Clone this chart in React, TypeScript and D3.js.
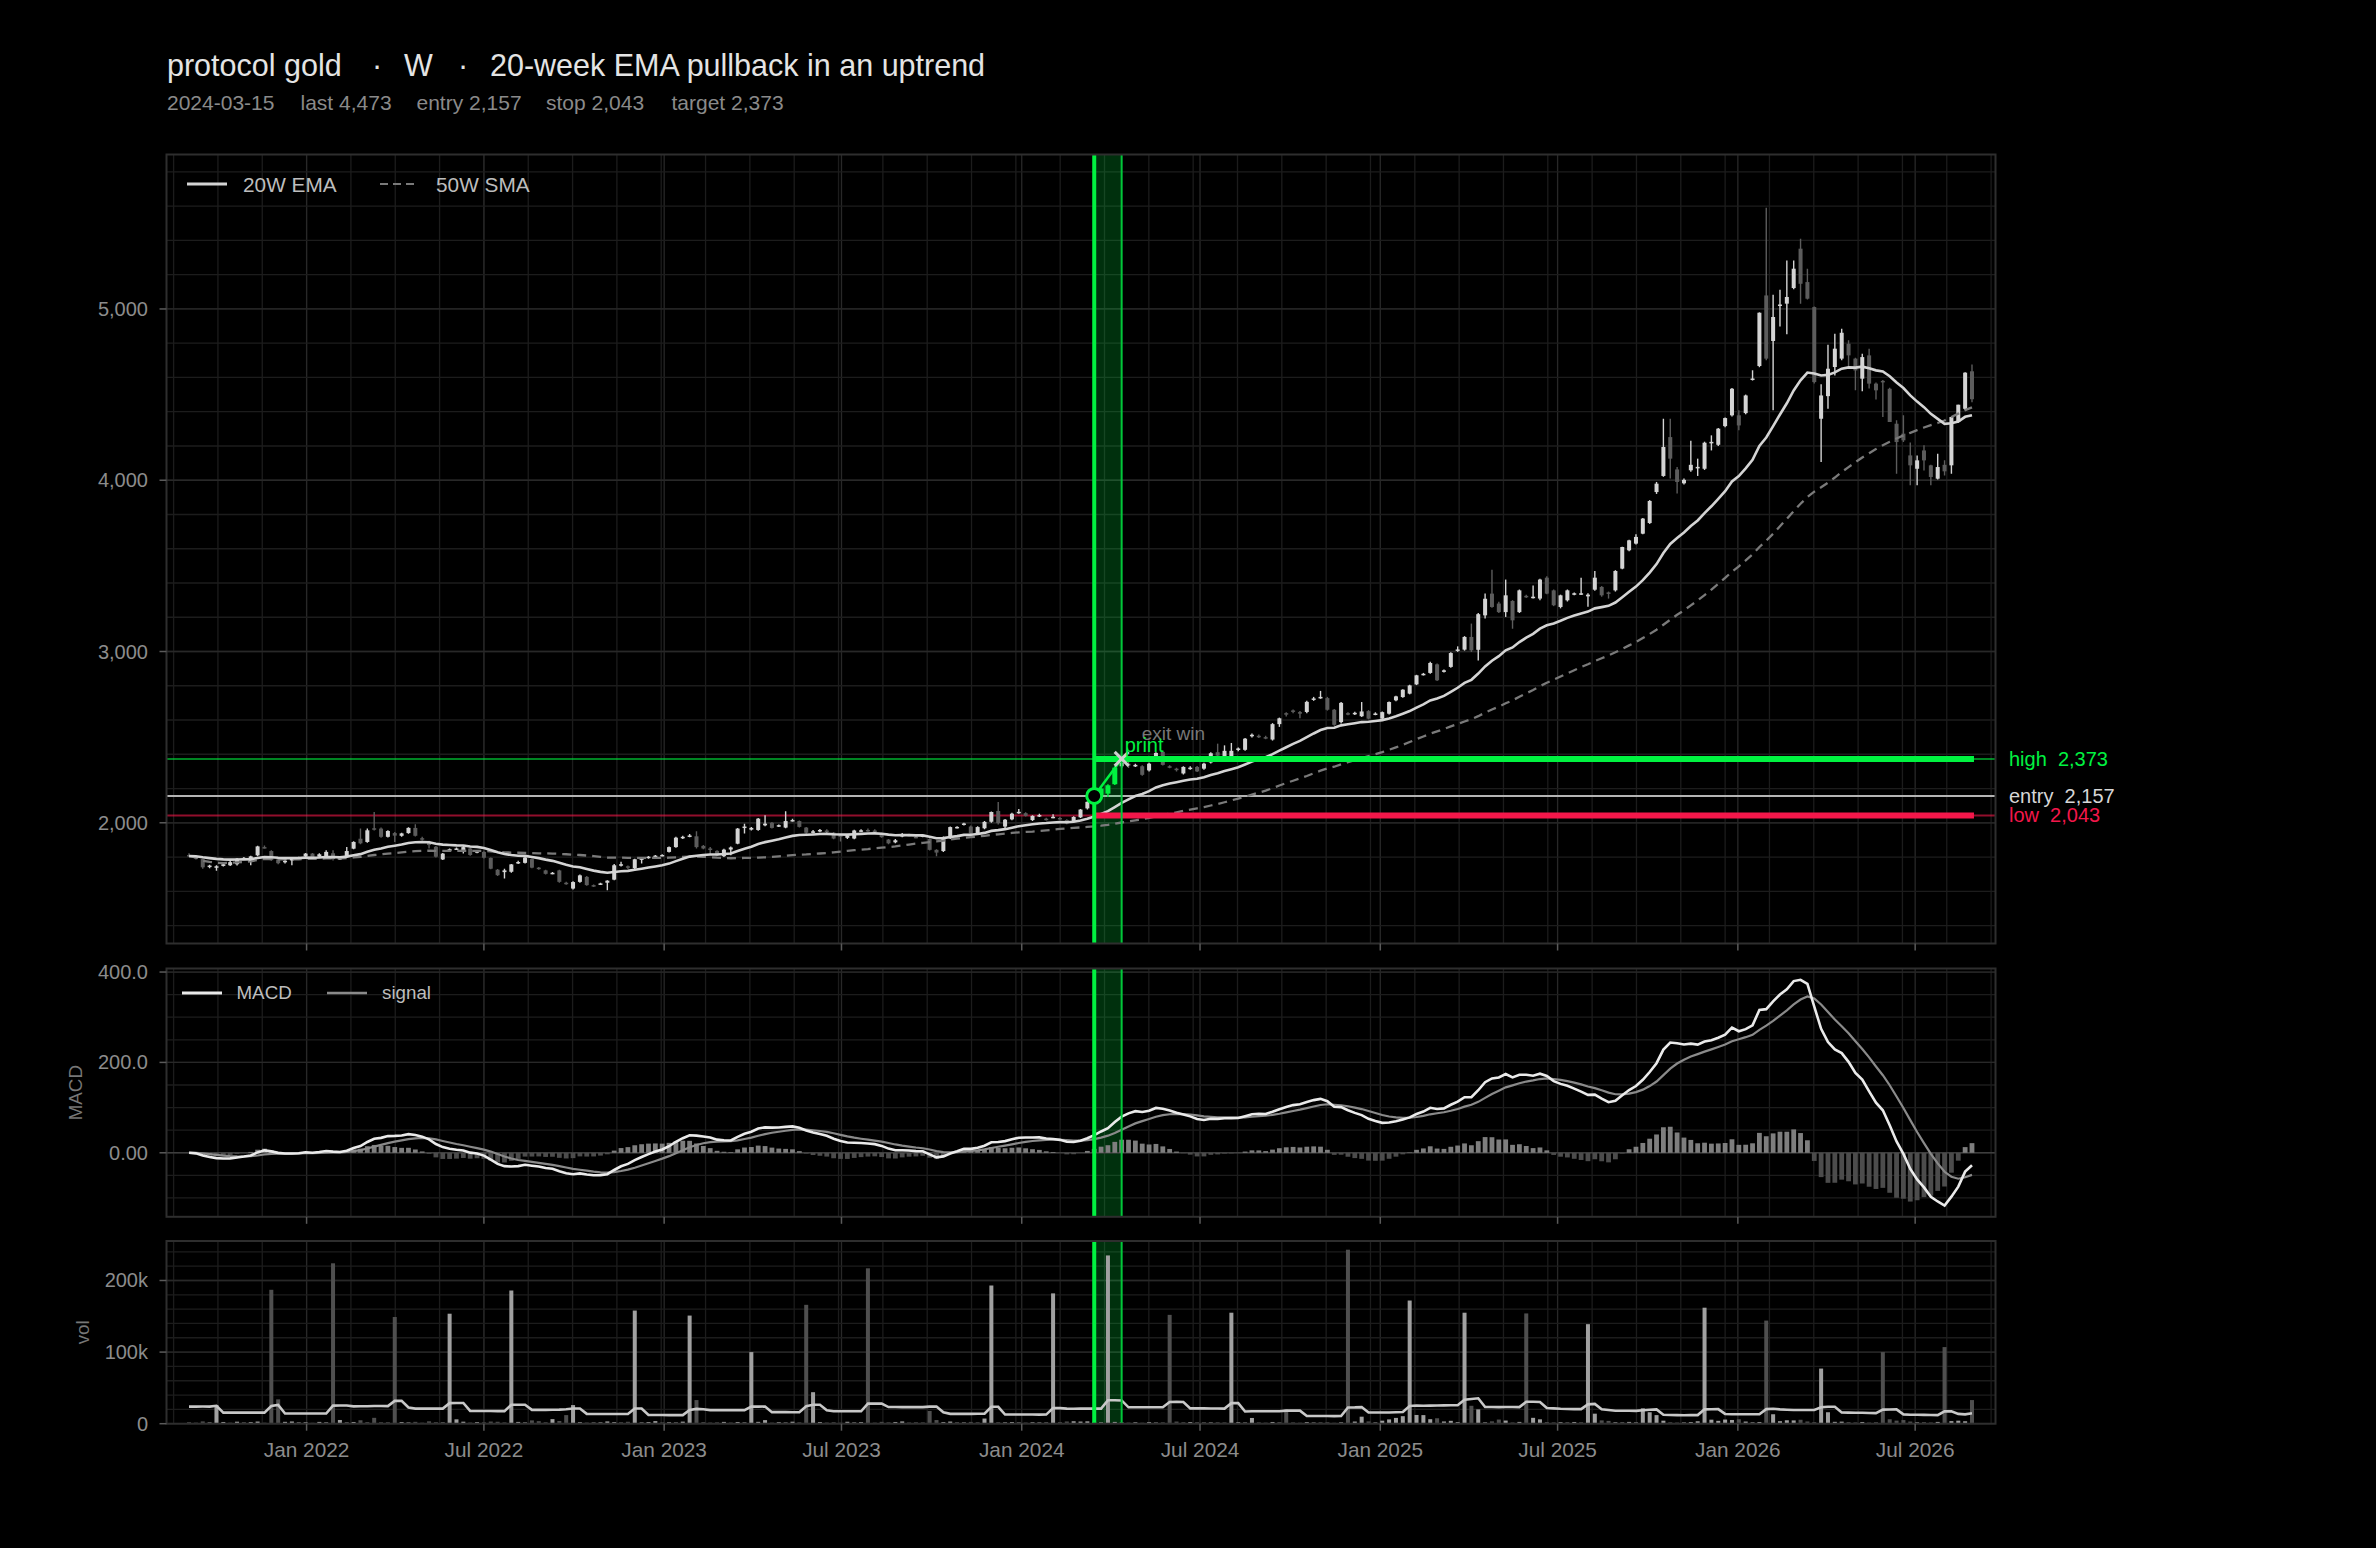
import React from "react";
import * as d3 from "d3";

// ---- data (weekly bars, Fridays) ----
const firstWeek = "2021-09-03";
const entryDate = "2024-03-15";
const exitDate = "2024-04-12";
const entryPrice = 2157;
const stopPrice = 2043;
const targetPrice = 2373;
const lastPrice = 4473;

// [open, high, low, close]
const candles: [number, number, number, number][] = [
  [1812,1822,1800,1806],[1802,1806,1785,1790],[1788,1790,1732,1740],[1745,1755,1735,1750],[1742,1752,1720,1746],
  [1748,1768,1745,1758],[1752,1785,1748,1770],[1758,1795,1750,1790],[1790,1800,1782,1795],[1772,1808,1752,1804],
  [1810,1866,1805,1862],[1858,1868,1850,1854],[1835,1840,1778,1782],[1786,1790,1758,1764],[1770,1784,1762,1778],
  [1780,1795,1752,1792],[1794,1802,1788,1798],[1804,1824,1800,1820],[1820,1824,1782,1786],[1802,1822,1798,1816],
  [1806,1840,1800,1830],[1822,1840,1780,1788],[1790,1798,1782,1794],[1800,1858,1796,1835],[1849,1892,1845,1888],
  [1907,1966,1875,1880],[1888,1966,1884,1956],[1968,2063,1955,1960],[1966,1972,1912,1918],[1918,1956,1914,1952],
  [1940,1946,1888,1925],[1924,1942,1918,1938],[1940,1974,1936,1970],[1970,1991,1920,1924],[1910,1918,1896,1903],
  [1890,1895,1850,1870],[1860,1864,1798,1802],[1786,1824,1782,1820],[1838,1850,1832,1846],[1848,1856,1842,1850],
  [1832,1868,1820,1858],[1850,1856,1808,1812],[1828,1840,1822,1834],[1830,1834,1792,1796],[1795,1798,1728,1732],
  [1726,1730,1690,1694],[1712,1732,1674,1722],[1714,1760,1708,1757],[1765,1778,1760,1771],[1766,1800,1762,1797],
  [1788,1792,1735,1738],[1738,1742,1726,1732],[1722,1726,1698,1702],[1704,1712,1700,1708],[1722,1726,1650,1655],
  [1650,1655,1638,1644],[1616,1658,1610,1654],[1655,1698,1650,1693],[1684,1690,1632,1636],[1636,1640,1625,1632],
  [1640,1650,1636,1646],[1650,1665,1606,1662],[1668,1760,1664,1752],[1752,1772,1745,1758],[1746,1750,1730,1738],
  [1735,1790,1730,1787],[1786,1800,1762,1792],[1796,1806,1790,1802],[1800,1812,1795,1808],[1808,1816,1804,1812],
  [1830,1862,1826,1858],[1858,1918,1854,1913],[1912,1924,1905,1918],[1920,1935,1915,1926],[1921,1950,1850,1858],
  [1865,1870,1846,1850],[1850,1858,1816,1845],[1836,1840,1806,1810],[1805,1848,1800,1843],[1844,1862,1810,1856],
  [1878,1970,1874,1966],[1972,1995,1937,1978],[1960,1975,1955,1970],[1958,2028,1954,2024],[1985,2044,1980,1995],
  [2000,2004,1966,1970],[1980,1990,1975,1986],[1972,2067,1968,2010],[2014,2024,2008,2016],[2010,2014,1972,1976],
  [1972,1976,1936,1942],[1945,1958,1938,1950],[1950,1964,1945,1958],[1955,1962,1940,1948],[1942,1946,1904,1908],
  [1930,1934,1890,1918],[1912,1930,1905,1925],[1908,1960,1904,1955],[1952,1962,1946,1956],[1958,1966,1948,1954],
  [1955,1962,1940,1948],[1936,1942,1912,1916],[1902,1906,1875,1880],[1886,1905,1880,1898],[1920,1940,1915,1932],
  [1930,1936,1920,1926],[1918,1925,1910,1914],[1920,1930,1915,1926],[1905,1910,1838,1842],[1842,1846,1805,1826],
  [1835,1920,1830,1917],[1910,1978,1905,1975],[1972,1980,1966,1976],[1990,2000,1984,1996],[1978,1984,1934,1938],
  [1934,1980,1930,1975],[1968,2010,1962,2005],[2006,2066,2000,2063],[2069,2122,1990,1998],[1978,2022,1960,2018],
  [2020,2058,2015,2053],[2058,2080,2052,2064],[2056,2062,2036,2040],[2016,2044,2010,2040],[2040,2052,2034,2045],
  [2024,2030,2014,2020],[2030,2050,2026,2035],[2028,2034,2018,2024],[2016,2020,1992,1996],[2010,2038,2005,2034],
  [2032,2080,2028,2077],[2084,2126,2078,2122],[2124,2170,2118,2157],[2160,2205,2155,2200],[2170,2225,2150,2219],
  [2225,2330,2220,2322],[2330,2380,2320,2350],[2345,2368,2320,2334],[2334,2345,2325,2338],[2330,2336,2274,2280],
  [2306,2350,2300,2345],[2374,2412,2370,2408],[2414,2418,2334,2338],[2330,2336,2318,2326],[2316,2322,2300,2310],
  [2288,2330,2282,2326],[2318,2330,2310,2322],[2326,2332,2297,2300],[2316,2350,2310,2345],[2352,2412,2346,2406],
  [2412,2462,2384,2392],[2390,2452,2385,2420],[2388,2466,2382,2420],[2425,2440,2418,2434],[2426,2495,2420,2491],
  [2505,2522,2498,2514],[2508,2515,2495,2502],[2500,2508,2488,2494],[2486,2582,2480,2576],[2576,2614,2560,2610],
  [2640,2646,2620,2632],[2656,2662,2640,2648],[2646,2652,2610,2644],[2647,2712,2640,2706],[2720,2735,2712,2726],
  [2732,2770,2724,2735],[2728,2735,2655,2660],[2660,2665,2566,2572],[2588,2705,2580,2700],[2640,2646,2628,2636],
  [2638,2648,2630,2642],[2622,2705,2618,2650],[2652,2658,2604,2608],[2634,2645,2628,2638],[2608,2650,2604,2646],
  [2637,2708,2632,2705],[2715,2742,2710,2738],[2734,2780,2730,2777],[2754,2806,2750,2802],[2808,2864,2804,2861],
  [2866,2875,2860,2870],[2875,2940,2870,2933],[2925,2930,2828,2832],[2885,2895,2878,2890],[2910,2996,2905,2991],
  [3005,3030,2998,3012],[3011,3090,3005,3085],[3085,3163,2997,3007],[3010,3225,2948,3218],[3211,3338,3192,3308],
  [3338,3478,3255,3260],[3280,3290,3225,3230],[3230,3420,3202,3328],[3295,3300,3133,3182],[3230,3362,3225,3357],
  [3325,3332,3312,3320],[3316,3386,3310,3320],[3309,3425,3300,3420],[3431,3440,3334,3338],[3357,3362,3265,3270],
  [3260,3332,3252,3328],[3299,3362,3292,3357],[3334,3345,3328,3340],[3336,3430,3330,3340],[3322,3340,3262,3332],
  [3361,3470,3355,3431],[3377,3382,3320,3328],[3345,3350,3309,3338],[3357,3475,3350,3470],[3484,3612,3480,3610],
  [3591,3652,3586,3649],[3630,3684,3625,3669],[3688,3780,3684,3776],[3750,3884,3745,3879],[3931,3990,3920,3980],
  [4025,4359,4020,4194],[4252,4359,4010,4126],[4063,4077,3922,3990],[3982,4010,3975,4002],[4058,4230,4050,4090],
  [4072,4126,4025,4078],[4067,4225,4060,4219],[4220,4262,4174,4224],[4207,4305,4200,4301],[4316,4366,4310,4363],
  [4379,4538,4372,4534],[4379,4408,4292,4320],[4392,4500,4385,4495],[4588,4642,4582,4594],[4667,4980,4660,4978],
  [5079,5591,4700,4710],[4813,5083,4408,4953],[5020,5112,4898,5026],[5031,5283,4852,5070],[5122,5283,5115,5235],
  [5352,5410,5030,5147],[5157,5235,5055,5060],[5011,5015,4565,4573],[4359,4560,4106,4495],[4491,4791,4418,4651],
  [4661,4855,4612,4768],[4710,4885,4700,4861],[4797,4817,4661,4729],[4710,4715,4525,4641],[4593,4739,4519,4719],
  [4729,4768,4535,4564],[4564,4570,4472,4525],[4580,4585,4369,4574],[4534,4540,4340,4340],[4330,4350,4038,4223],
  [4272,4380,4223,4233],[4145,4220,3970,4087],[4067,4145,3970,4116],[4174,4204,4057,4116],[4087,4090,3970,4019],
  [4009,4155,4005,4077],[4090,4116,4028,4052],[4087,4369,4038,4369],[4340,4441,4335,4441],[4417,4630,4410,4628],
  [4636,4675,4456,4473],
];

// weekly volume, thousands
const volumeK = [
  2.1, 1.5, 3.2, 1.8, 26, 2.4, 1.2, 2.8, 1.6, 2.2,
  3.0, 1.4, 187, 34, 2.6, 3.1, 1.8, 2.0, 1.3, 2.5,
  1.9, 224, 5.2, 1.7, 2.4, 4.8, 1.6, 8.2, 2.0, 1.5,
  149, 2.3, 1.8, 2.6, 1.4, 3.3, 2.1, 1.7, 153.6, 6.1,
  2.8, 1.6, 2.2, 1.9, 3.0, 2.7, 1.4, 186, 2.5, 1.8,
  4.6, 3.5, 2.0, 6.4, 3.8, 12, 26, 2.1, 1.6, 2.4,
  1.9, 3.2, 2.2, 1.5, 2.7, 158, 1.8, 2.3, 3.6, 1.4,
  2.0, 1.7, 2.9, 151, 33, 2.2, 1.6, 1.9, 2.5, 1.3,
  2.4, 1.8, 100, 2.6, 5.0, 1.5, 2.1, 1.7, 2.8, 1.9,
  166, 44, 2.3, 1.6, 2.0, 1.4, 2.7, 1.8, 2.2, 217,
  1.5, 2.6, 1.9, 2.4, 3.2, 1.7, 2.0, 1.4, 17.8, 5.1,
  2.2, 3.0, 1.6, 1.8, 2.5, 1.5, 7.2, 193, 2.1, 1.9,
  2.3, 1.7, 1.6, 2.0, 1.8, 2.4, 182, 2.2, 3.1, 3.4,
  3.0, 3.3, 2.6, 1.9, 235, 2.5, 1.8, 1.6, 2.0, 1.4,
  2.2, 1.7, 1.9, 152, 3.0, 1.5, 2.3, 2.1, 1.6, 1.8,
  2.0, 1.4, 155, 2.1, 1.7, 8.0, 1.9, 1.5, 2.4, 1.6,
  20, 1.8, 1.4, 2.2, 1.7, 1.5, 2.0, 1.3, 1.9, 243,
  3.0, 9.8, 3.2, 1.8, 4.2, 6.0, 8.1, 10.5, 172, 12.2,
  12.0, 6.3, 7.6, 3.1, 4.0, 2.2, 155, 25, 20, 1.9,
  3.3, 5.8, 4.4, 1.7, 2.5, 154, 8.2, 6.1, 2.3, 1.8,
  2.1, 1.6, 2.4, 1.5, 139, 14, 4.6, 3.9, 2.0, 1.7,
  2.5, 1.8, 21.5, 16, 12, 4.2, 2.0, 1.6, 1.8, 2.3,
  3.4, 162, 5.6, 4.0, 5.8, 5.2, 6.2, 3.0, 1.9, 2.4,
  144, 13.2, 3.5, 4.8, 4.6, 5.5, 3.1, 2.2, 77, 16,
  2.6, 2.9, 2.2, 1.8, 2.4, 1.6, 2.1, 100, 6.2, 4.3,
  5.1, 3.0, 1.9, 2.2, 1.7, 2.5, 107, 3.6, 4.2, 3.4,
  33,
];

// the 20 weeks before the first bar, only used to warm up the volume average
const volumeKBefore = [
  2.4, 1.8, 2.6, 3.0, 2.2, 193, 2.5, 1.9, 2.8, 2.1,
  2.3, 3.1, 2.0, 2.6, 243, 2.2, 1.7, 2.9, 2.4, 2.0,
];

const xTickDates = [
  "2022-01-01", "2022-07-01", "2023-01-01", "2023-07-01", "2024-01-01",
  "2024-07-01", "2025-01-01", "2025-07-01", "2026-01-01", "2026-07-01",
];
const xTickLabels = [
  "Jan 2022", "Jul 2022", "Jan 2023", "Jul 2023", "Jan 2024",
  "Jul 2024", "Jan 2025", "Jul 2025", "Jan 2026", "Jul 2026",
];
const priceTicks = [2000, 3000, 4000, 5000];
const macdTicks = [0, 200, 400];
const macdTickLabels = ["0.00", "200.0", "400.0"];
const volTicks = [0, 100, 200];
const volTickLabels = ["0", "100k", "200k"];

// ---- indicators ----
const DAY = 86400000;
const t0 = Date.parse(firstWeek);
const dates = candles.map((_, i) => new Date(t0 + i * 7 * DAY));
const closes = candles.map((c) => c[3]);

function ema(vals: number[], n: number) {
  const a = 2 / (n + 1);
  let prev = vals[0];
  return vals.map((v, i) => (i === 0 ? v : (prev = a * v + (1 - a) * prev)));
}
const ema20 = ema(closes, 20);
const sma50 = closes.map((_, i) => d3.mean(closes.slice(Math.max(0, i - 49), i + 1))!);
const ema12 = ema(closes, 12);
const ema26 = ema(closes, 26);
const macd = ema12.map((v, i) => v - ema26[i]);
const signal = ema(macd, 9);
const hist = macd.map((v, i) => v - signal[i]);
const allVol = volumeKBefore.concat(volumeK);
const nb = volumeKBefore.length;
const volMA = volumeK.map((_, i) => d3.mean(allVol.slice(i + nb - 19, i + nb + 1))!);

// ---- layout ----
const W = 2376;
const H = 1548;
const X0 = 166.5;
const X1 = 1995.5;
const P = { top: 154.5, bottom: 943.5 };
const M = { top: 968.5, bottom: 1216.8 };
const V = { top: 1241, bottom: 1423.7 };
const FONT = "'Liberation Sans', Arial, Helvetica, sans-serif";

const col = {
  frame: "#2e2e2e",
  gridMajor: "#282828",
  gridMinor: "#1c1c1c",
  tick: "#5a5a5a",
  tickText: "#8c8c8c",
  up: "#d4d4d4",
  down: "#5c5c5c",
  ema: "#d4d4d4",
  sma: "#7a7a7a",
  green: "#00f240",
  red: "#f3174a",
  entry: "#b4b4b4",
};

const x = d3
  .scaleUtc()
  .domain([new Date(t0 - 23 * DAY), new Date(dates[dates.length - 1].getTime() + 24 * DAY)])
  .range([X0, X1]);

const lo = d3.min(candles, (c) => c[2])!;
const hi = d3.max(candles, (c) => c[1])!;
const pad = (hi - lo) * 0.078;
const yP = d3.scaleLinear().domain([lo - pad, hi + pad]).range([P.bottom, P.top]);

const mLo = Math.min(d3.min(macd)!, d3.min(signal)!, d3.min(hist)!);
const mHi = Math.max(d3.max(macd)!, d3.max(signal)!, d3.max(hist)!);
const mPad = (mHi - mLo) * 0.05;
const yM = d3.scaleLinear().domain([mLo - mPad, mHi + mPad]).range([M.bottom, M.top]);

const yV = d3.scaleLinear().domain([0, d3.max(volumeK)! * 1.05]).range([V.bottom, V.top]);

// x minor grid: a quarter of the first major step, repeated evenly
const majorX = xTickDates.map((d) => Date.parse(d));
const minorStep = (majorX[1] - majorX[0]) / 4;
const minorX: number[] = [];
for (let t = majorX[0] - 12 * minorStep; t <= x.domain()[1].getTime(); t += minorStep) {
  if (t >= x.domain()[0].getTime()) minorX.push(t);
}

function range(a: number, b: number, step: number) {
  const out: number[] = [];
  for (let v = Math.ceil(a / step) * step; v <= b; v += step) out.push(v);
  return out;
}

function Grid({ y, top, bottom, minor, major }: { y: d3.ScaleLinear<number, number>; top: number; bottom: number; minor: number; major: number[] }) {
  const [d0, d1] = y.domain();
  return (
    <g>
      {minorX.map((t) => (
        <line key={"vx" + t} x1={x(t)} x2={x(t)} y1={top} y2={bottom} stroke={col.gridMinor} strokeWidth={1.3} />
      ))}
      {majorX.map((t) => (
        <line key={"vX" + t} x1={x(t)} x2={x(t)} y1={top} y2={bottom} stroke={col.gridMajor} strokeWidth={1.3} />
      ))}
      {range(d0, d1, minor).map((v) => (
        <line key={"hy" + v} x1={X0} x2={X1} y1={y(v)} y2={y(v)} stroke={col.gridMinor} strokeWidth={1.3} />
      ))}
      {major.map((v) => (
        <line key={"hY" + v} x1={X0} x2={X1} y1={y(v)} y2={y(v)} stroke={col.gridMajor} strokeWidth={1.3} />
      ))}
    </g>
  );
}

function Frame({ top, bottom, y, ticks, labels }: { top: number; bottom: number; y: d3.ScaleLinear<number, number>; ticks: number[]; labels: string[] }) {
  return (
    <g>
      <rect x={X0} y={top} width={X1 - X0} height={bottom - top} fill="none" stroke={col.frame} strokeWidth={2} />
      {majorX.map((t) => (
        <line key={t} x1={x(t)} x2={x(t)} y1={bottom} y2={bottom + 7} stroke={col.tick} strokeWidth={1.5} />
      ))}
      {ticks.map((v, i) => (
        <g key={v}>
          <line x1={X0 - 7} x2={X0} y1={y(v)} y2={y(v)} stroke={col.tick} strokeWidth={1.5} />
          <text x={148} y={y(v)} dy="0.35em" textAnchor="end" fontSize={20} fill={col.tickText}>
            {labels[i]}
          </text>
        </g>
      ))}
    </g>
  );
}

function TradeBand({ top, bottom }: { top: number; bottom: number }) {
  const xa = x(Date.parse(entryDate));
  const xb = x(Date.parse(exitDate));
  return <rect x={xa} y={top} width={xb - xa} height={bottom - top} fill={col.green} opacity={0.2} />;
}

function TradeEdges({ top, bottom }: { top: number; bottom: number }) {
  const xa = x(Date.parse(entryDate));
  const xb = x(Date.parse(exitDate));
  return (
    <g>
      <line x1={xb} x2={xb} y1={top} y2={bottom} stroke="#00c83a" strokeWidth={2} />
      <line x1={xa} x2={xa} y1={top} y2={bottom} stroke={col.green} strokeWidth={4} />
    </g>
  );
}

export default function App() {
  const fmt = d3.format(",");
  const entryT = Date.parse(entryDate);
  const exitT = Date.parse(exitDate);
  const xe = x(entryT);
  const xx = x(exitT);
  const xLast = x(dates[dates.length - 1]) + 2;
  const inTrade = (d: Date) => d.getTime() > entryT && d.getTime() < exitT;

  const emaLine = d3.line<number>().x((_, i) => x(dates[i])).y((v) => yP(v));
  const macdLine = d3.line<number>().x((_, i) => x(dates[i])).y((v) => yM(v));
  const volLine = d3.line<number>().x((_, i) => x(dates[i])).y((v) => yV(v));

  const bw = 4;
  const levelLabels = [
    { name: "high", value: targetPrice, color: col.green },
    { name: "entry", value: entryPrice, color: "#d6d6d6" },
    { name: "low", value: stopPrice, color: col.red },
  ];

  return (
    <div style={{ position: "fixed", left: 0, top: 0, width: W, height: H, background: "#000" }}>
      <svg width={W} height={H} fontFamily={FONT} style={{ display: "block" }}>
        <rect width={W} height={H} fill="#000" />
        <defs>
          <clipPath id="cp"><rect x={X0} y={P.top} width={X1 - X0} height={P.bottom - P.top} /></clipPath>
          <clipPath id="cm"><rect x={X0} y={M.top} width={X1 - X0} height={M.bottom - M.top} /></clipPath>
          <clipPath id="cv"><rect x={X0} y={V.top} width={X1 - X0} height={V.bottom - V.top} /></clipPath>
        </defs>

        {/* title */}
        <g fill="#e4e4e4" fontSize={30.5}>
          <text x={167} y={75.5}>protocol gold</text>
          <text x={372} y={75.5}>·</text>
          <text x={404} y={75.5}>W</text>
          <text x={458} y={75.5}>·</text>
          <text x={490} y={75.5}>20-week EMA pullback in an uptrend</text>
        </g>
        <g fill="#8a8a8a" fontSize={21}>
          <text x={167} y={110}>2024-03-15</text>
          <text x={300.5} y={110}>last {fmt(lastPrice)}</text>
          <text x={416.5} y={110}>entry {fmt(entryPrice)}</text>
          <text x={546} y={110}>stop {fmt(stopPrice)}</text>
          <text x={671.5} y={110}>target {fmt(targetPrice)}</text>
        </g>

        {/* ---- price panel ---- */}
        <Grid y={yP} top={P.top} bottom={P.bottom} minor={200} major={priceTicks} />
        <g clipPath="url(#cp)">
          <line x1={X0} x2={X1} y1={yP(targetPrice)} y2={yP(targetPrice)} stroke={col.green} strokeOpacity={0.55} strokeWidth={2} />
          <line x1={X0} x2={X1} y1={yP(stopPrice)} y2={yP(stopPrice)} stroke={col.red} strokeOpacity={0.6} strokeWidth={2} />
          <line x1={X0} x2={X1} y1={yP(entryPrice)} y2={yP(entryPrice)} stroke={col.entry} strokeWidth={2} />
          <TradeBand top={P.top} bottom={P.bottom} />
          {candles.map(([o, h, l, c], i) => {
            const d = dates[i];
            const cx = x(d);
            const green = inTrade(d);
            const color = green ? col.green : c >= o ? col.up : col.down;
            const w = green ? 5 : bw;
            const yt = yP(Math.max(o, c));
            const yb = yP(Math.min(o, c));
            return (
              <g key={i}>
                <line x1={cx} x2={cx} y1={yP(h)} y2={yP(l)} stroke={color} strokeWidth={1.4} />
                <rect x={cx - w / 2} y={yt} width={w} height={Math.max(1.5, yb - yt)} fill={color} />
              </g>
            );
          })}
          <path d={emaLine(sma50)!} fill="none" stroke={col.sma} strokeWidth={2.3} strokeDasharray="9,6" />
          <path d={emaLine(ema20)!} fill="none" stroke={col.ema} strokeWidth={2.6} />
          <line x1={xe} x2={xLast} y1={yP(targetPrice)} y2={yP(targetPrice)} stroke={col.green} strokeWidth={6} />
          <line x1={xe} x2={xLast} y1={yP(stopPrice)} y2={yP(stopPrice)} stroke={col.red} strokeWidth={6} />
          <TradeEdges top={P.top} bottom={P.bottom} />
          <line x1={xe} x2={xx} y1={yP(entryPrice)} y2={yP(targetPrice)} stroke={col.green} strokeWidth={2.5} />
          <circle cx={xe} cy={yP(entryPrice)} r={7.5} fill="#000" stroke={col.green} strokeWidth={3} />
          <g stroke="#cfcfcf" strokeWidth={3}>
            <line x1={xx - 7} x2={xx + 7} y1={yP(targetPrice) - 7} y2={yP(targetPrice) + 7} />
            <line x1={xx - 7} x2={xx + 7} y1={yP(targetPrice) + 7} y2={yP(targetPrice) - 7} />
          </g>
          <text x={xx + 20} y={yP(targetPrice) - 19} fontSize={19} fill="#777">exit win</text>
          <text x={xx + 3} y={yP(targetPrice) - 7} fontSize={20} fill={col.green}>print</text>
        </g>
        <Frame top={P.top} bottom={P.bottom} y={yP} ticks={priceTicks} labels={priceTicks.map(fmt)} />

        {/* legend */}
        <line x1={187} x2={227} y1={184} y2={184} stroke={col.ema} strokeWidth={3} />
        <text x={243} y={191.5} fontSize={20.8} fill="#bdbdbd">20W EMA</text>
        <line x1={380} x2={416} y1={184} y2={184} stroke={col.sma} strokeWidth={2.2} strokeDasharray="8,5" />
        <text x={436} y={191.5} fontSize={20.8} fill="#bdbdbd">50W SMA</text>

        {/* right labels */}
        <g fontSize={20}>
          {levelLabels.map((d) => (
            <text key={d.name} x={2009} y={yP(d.value)} dy="0.35em" fill={d.color} xmlSpace="preserve" style={{ whiteSpace: "pre" }}>
              {`${d.name}  ${fmt(d.value)}`}
            </text>
          ))}
        </g>

        {/* ---- MACD panel ---- */}
        <Grid y={yM} top={M.top} bottom={M.bottom} minor={50} major={macdTicks.filter((v) => v !== 0)} />
        <g clipPath="url(#cm)">
          <TradeBand top={M.top} bottom={M.bottom} />
          <line x1={X0} x2={X1} y1={yM(0)} y2={yM(0)} stroke="#3e3e3e" strokeWidth={1.6} />
          {hist.map((v, i) => (
            <rect
              key={i}
              x={x(dates[i]) - 2.4}
              y={Math.min(yM(v), yM(0))}
              width={4.8}
              height={Math.abs(yM(v) - yM(0))}
              fill={v >= 0 ? "#7e7e7e" : "#4c4c4c"}
            />
          ))}
          <path d={macdLine(signal)!} fill="none" stroke="#8a8a8a" strokeWidth={2.2} />
          <path d={macdLine(macd)!} fill="none" stroke="#eaeaea" strokeWidth={2.6} />
          <TradeEdges top={M.top} bottom={M.bottom} />
        </g>
        <Frame top={M.top} bottom={M.bottom} y={yM} ticks={macdTicks} labels={macdTickLabels} />
        <line x1={182} x2={222} y1={993} y2={993} stroke="#eaeaea" strokeWidth={3} />
        <text x={236.5} y={999} fontSize={18.75} fill="#bdbdbd">MACD</text>
        <line x1={327} x2={367} y1={993} y2={993} stroke="#8a8a8a" strokeWidth={2.5} />
        <text x={382} y={999} fontSize={18.75} fill="#bdbdbd">signal</text>
        <text transform={`translate(82,${(M.top + M.bottom) / 2}) rotate(-90)`} textAnchor="middle" fontSize={18.75} fill="#777">MACD</text>

        {/* ---- volume panel ---- */}
        <Grid y={yV} top={V.top} bottom={V.bottom} minor={20} major={volTicks.filter((v) => v !== 0)} />
        <g clipPath="url(#cv)">
          <TradeBand top={V.top} bottom={V.bottom} />
          {volumeK.map((v, i) => {
            const [o, , , c] = candles[i];
            return (
              <rect
                key={i}
                x={x(dates[i]) - 2}
                y={yV(v)}
                width={4}
                height={yV(0) - yV(v)}
                fill={c >= o ? "#a0a0a0" : "#4f4f4f"}
              />
            );
          })}
          <path d={volLine(volMA)!} fill="none" stroke="#c8c8c8" strokeWidth={2.6} />
          <TradeEdges top={V.top} bottom={V.bottom} />
        </g>
        <Frame top={V.top} bottom={V.bottom} y={yV} ticks={volTicks} labels={volTickLabels} />
        <text transform={`translate(89,${(V.top + V.bottom) / 2}) rotate(-90)`} textAnchor="middle" fontSize={18.75} fill="#777">vol</text>

        {/* x labels */}
        {majorX.map((t, i) => (
          <text key={t} x={x(t)} y={1457} textAnchor="middle" fontSize={20.8} fill={col.tickText}>
            {xTickLabels[i]}
          </text>
        ))}
      </svg>
    </div>
  );
}
